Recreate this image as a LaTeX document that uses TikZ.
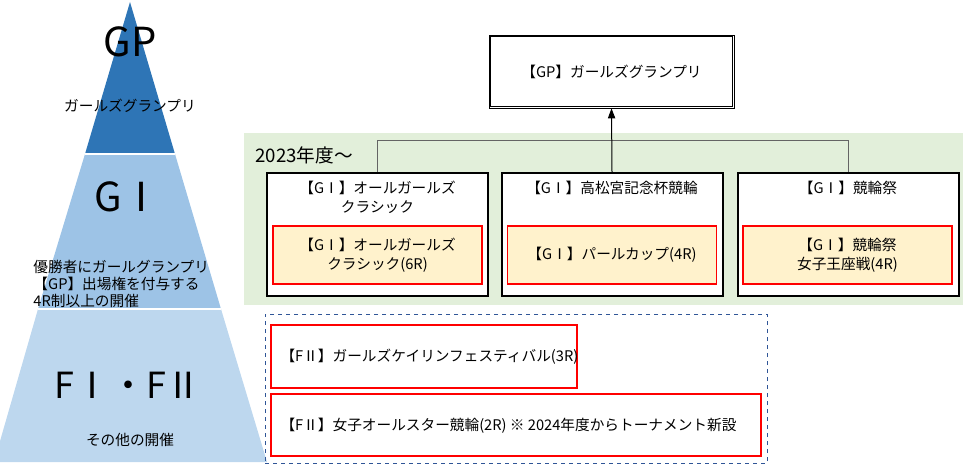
\documentclass[tikz,border=0pt]{standalone}
\usepackage{fontspec}
\setmainfont{Noto Sans CJK JP}
\usetikzlibrary{arrows.meta}

\definecolor{gpblue}{RGB}{46,117,182}
\definecolor{gonblue}{RGB}{157,195,230}
\definecolor{fblue}{RGB}{189,215,238}
\definecolor{bggreen}{RGB}{226,239,218}
\definecolor{boxcream}{RGB}{255,242,204}
\definecolor{dashblue}{RGB}{47,85,151}
\definecolor{linegray}{RGB}{100,100,100}

\tikzset{every picture/.style={line width=0.75pt},
  txt/.style={font=\fontsize{11}{14.25}\selectfont, inner sep=0pt, align=center},
  bigtxt/.style={font=\fontsize{30}{30}\selectfont, inner sep=0pt},
  gbox/.style={draw=black, line width=1.5pt, fill=white, inner sep=0pt,
    minimum width=165.75pt, minimum height=92.25pt},
  redbox/.style={draw=red, line width=1pt, fill=boxcream, inner sep=0pt,
    minimum width=156.75pt, minimum height=43.5pt},
  fbox/.style={draw=red, line width=1pt, fill=white, inner sep=0pt},
  gpbox/.style={draw=black, line width=0.6pt, fill=white, inner sep=0pt,
    minimum width=183.75pt, minimum height=54.75pt}
}

\begin{document}
\begin{tikzpicture}[x=0.75pt,y=0.75pt,yscale=-1,xscale=1]
\useasboundingbox (0,0) rectangle (964,467);

%Pyramid
\fill[gpblue] (130,2) -- (175,154) -- (85,154) -- cycle;
\fill[gonblue] (85,154) -- (175,154) -- (221,309) -- (38,309) -- cycle;
\fill[fblue] (38,309) -- (221,309) -- (267,462) -- (-6,462) -- cycle;
\draw[white, line width=1.5pt] (85,154) -- (175,154);
\draw[white, line width=1.5pt] (38,309) -- (221,309);

% Text Node
\draw (130,42) node [bigtxt] (gpbig) {GP};
% Text Node
\draw (130,106) node [txt] (gplabel) {ガールズグランプリ};
% Text Node
\draw (128,197) node [bigtxt] (gonebig) {GⅠ};
% Text Node
\draw (33,284) node [txt, anchor=west, align=left, font=\fontsize{11}{12.75}\selectfont] (gonelabel) {優勝者にガールグランプリ\\【GP】出場権を付与する\\4R制以上の開催};
% Text Node
\draw (128,385) node [bigtxt, font=\fontsize{27}{27}\selectfont] (fbig) {FⅠ・FⅡ};
% Text Node
\draw (130,440) node [txt] (flabel) {その他の開催};

%Green area
\fill[bggreen] (244,133) rectangle (963,305);
% Text Node
\draw (255,155) node [txt, anchor=west, font=\fontsize{14}{15}\selectfont] (since) {2023年度～};

%GP box
\draw (611.5,71.5) node [gpbox] (gp) {};
\draw ([shift={(2,2)}]gp.north west) rectangle ([shift={(-2,-2)}]gp.south east);
\draw (611.5,72) node [txt] (gptitle) {【GP】ガールズグランプリ};

%GI boxes
\draw (377.5,234.5) node [gbox] (b1) {};
\draw (612,234.5) node [gbox] (b2) {};
\draw (848,234.5) node [gbox] (b3) {};
% Text Node
\draw (377.5,197.5) node [txt] (b1title) {【GⅠ】オールガールズ\\クラシック};
\draw (612,188) node [txt] (b2title) {【GⅠ】高松宮記念杯競輪};
\draw (848,188) node [txt] (b3title) {【GⅠ】競輪祭};
%Inner boxes
\draw (377.5,255) node [redbox] (r1) {};
\draw (612,255) node [redbox] (r2) {};
\draw (847.5,255) node [redbox] (r3) {};
\draw (r1.center) node [txt] (r1text) {【GⅠ】オールガールズ\\クラシック(6R)};
\draw (r2.center) node [txt] (r2text) {【GⅠ】パールカップ(4R)};
\draw (r3.center) node [txt] (r3text) {【GⅠ】競輪祭\\女子王座戦(4R)};

%Connectors
\draw[linegray] (b1.north) -- ++(0,-32) -| (b3.north);
\draw[-{Triangle[length=7.5pt,width=5.5pt]}] (b2.north) -- (gp.south);

%FII area
\draw (516,388.5) node [draw=dashblue, dashed, line width=0.75pt, inner sep=0pt,
  minimum width=376.5pt, minimum height=111.75pt] (farea) {};
\draw (424,356.5) node [fbox, minimum width=229.5pt, minimum height=47.25pt] (f1) {};
\draw (516,425) node [fbox, minimum width=367.5pt, minimum height=46.5pt] (f2) {};
% Text Node
\draw (280,357) node [txt, anchor=west] (f1text) {【FⅡ】ガールズケイリンフェスティバル(3R)};
\draw (280,426) node [txt, anchor=west] (f2text) {【FⅡ】女子オールスター競輪(2R) ※ 2024年度からトーナメント新設};

\end{tikzpicture}
\end{document}
